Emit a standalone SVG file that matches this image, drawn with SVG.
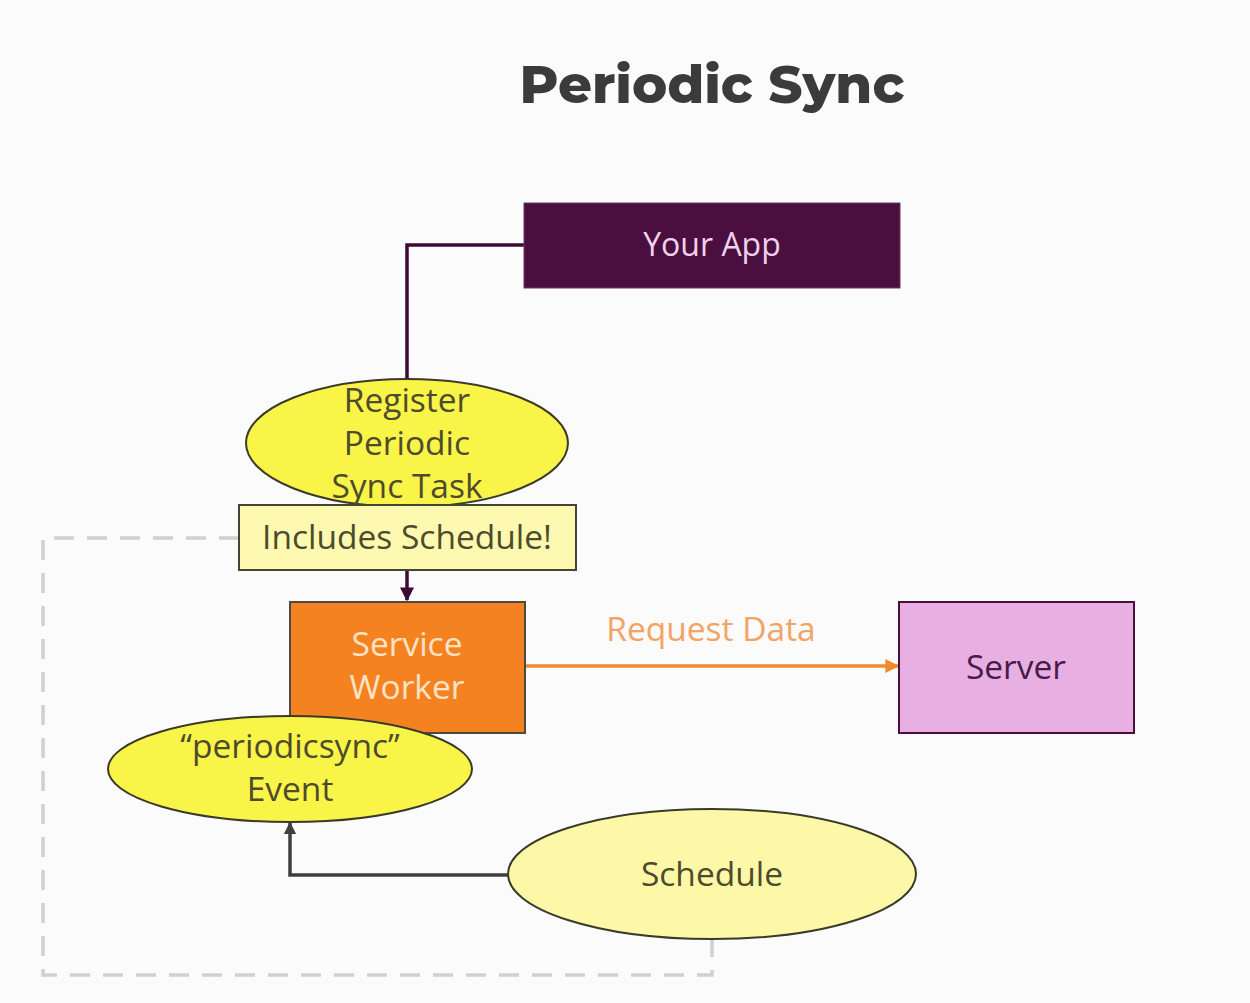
<svg xmlns="http://www.w3.org/2000/svg" width="1250" height="1003" viewBox="0 0 1250 1003">
<defs>
<style>
.t{font-family:"Open Sans","Liberation Sans",sans-serif;font-size:33.5px;text-anchor:middle}
.dark{fill:#4d4b2c}
.conn{fill:none;stroke-width:3.5}
</style>
<marker id="ap" viewBox="0 0 10 10" refX="9" refY="5" markerWidth="4" markerHeight="4" orient="auto" markerUnits="strokeWidth"><path d="M0,0 L10,5 L0,10 z" fill="#3d0a35"/></marker>
<marker id="ao" viewBox="0 0 10 10" refX="9" refY="5" markerWidth="4" markerHeight="4" orient="auto" markerUnits="strokeWidth"><path d="M0,0 L10,5 L0,10 z" fill="#f08a30"/></marker>
<marker id="ag" viewBox="0 0 10 10" refX="9" refY="5" markerWidth="3.5" markerHeight="3.5" orient="auto" markerUnits="strokeWidth"><path d="M0,0 L10,5 L0,10 z" fill="#3f3f3f"/></marker>
</defs>
<rect width="1250" height="1003" fill="#fbfbfb"/>
<text x="712" y="103" font-family="Montserrat,'Liberation Sans',sans-serif" font-weight="800" font-size="53" text-anchor="middle" fill="#3b3b3b">Periodic Sync</text>

<g id="connectors">
<path class="conn" d="M239,538 H43 V975 H712 V940" stroke="#d0d0d0" stroke-width="4" stroke-dasharray="20 13"/>
<path class="conn" d="M524,245 H407 V380" stroke="#3d0a35"/>
<path class="conn" d="M407,570 V600" stroke="#3d0a35" marker-end="url(#ap)"/>
<path class="conn" d="M525,666 H898" stroke="#f08a30" marker-end="url(#ao)"/>
<path class="conn" d="M508,875 H290 V823" stroke="#3f3f3f" stroke-width="4" marker-end="url(#ag)"/>
<text class="t" x="711" y="641" fill="#f2a365">Request Data</text>
</g>

<g id="your-app">
<rect x="524" y="203" width="376" height="85" fill="#4a0e3f" stroke="#6a3a62" stroke-width="1"/>
<text class="t" x="712" y="256" fill="#f0d2ec" style="font-size:32px">Your App</text>
</g>

<g id="register">
<ellipse cx="407" cy="443" rx="161" ry="64" fill="#f9f448" stroke="#3a3a2a" stroke-width="2"/>
<text class="t dark" x="407" y="412">Register</text>
<text class="t dark" x="407" y="455">Periodic</text>
<text class="t dark" x="407" y="498">Sync Task</text>
</g>

<g id="includes-schedule">
<rect x="239" y="505" width="337" height="65" fill="#fdf9b0" stroke="#454535" stroke-width="2"/>
<text class="t dark" x="407" y="549">Includes Schedule!</text>
</g>

<g id="service-worker">
<rect x="290" y="602" width="235" height="131" fill="#f58220" stroke="#4a4a40" stroke-width="2"/>
<text class="t" x="407" y="656" fill="#fde3c6">Service</text>
<text class="t" x="407" y="699" fill="#fde3c6">Worker</text>
</g>

<g id="server">
<rect x="899" y="602" width="235" height="131" fill="#e8b0e2" stroke="#4a0e3f" stroke-width="2"/>
<text class="t" x="1016" y="679" fill="#4a1a48">Server</text>
</g>

<g id="periodicsync-event">
<ellipse cx="290" cy="769" rx="182" ry="53" fill="#f9f448" stroke="#3a3a2a" stroke-width="2"/>
<text class="t dark" x="290" y="758">“periodicsync”</text>
<text class="t dark" x="290" y="801">Event</text>
</g>

<g id="schedule">
<ellipse cx="712" cy="874" rx="204" ry="65" fill="#fdf8a8" stroke="#3a3a2a" stroke-width="2"/>
<text class="t dark" x="712" y="886">Schedule</text>
</g>
</svg>
